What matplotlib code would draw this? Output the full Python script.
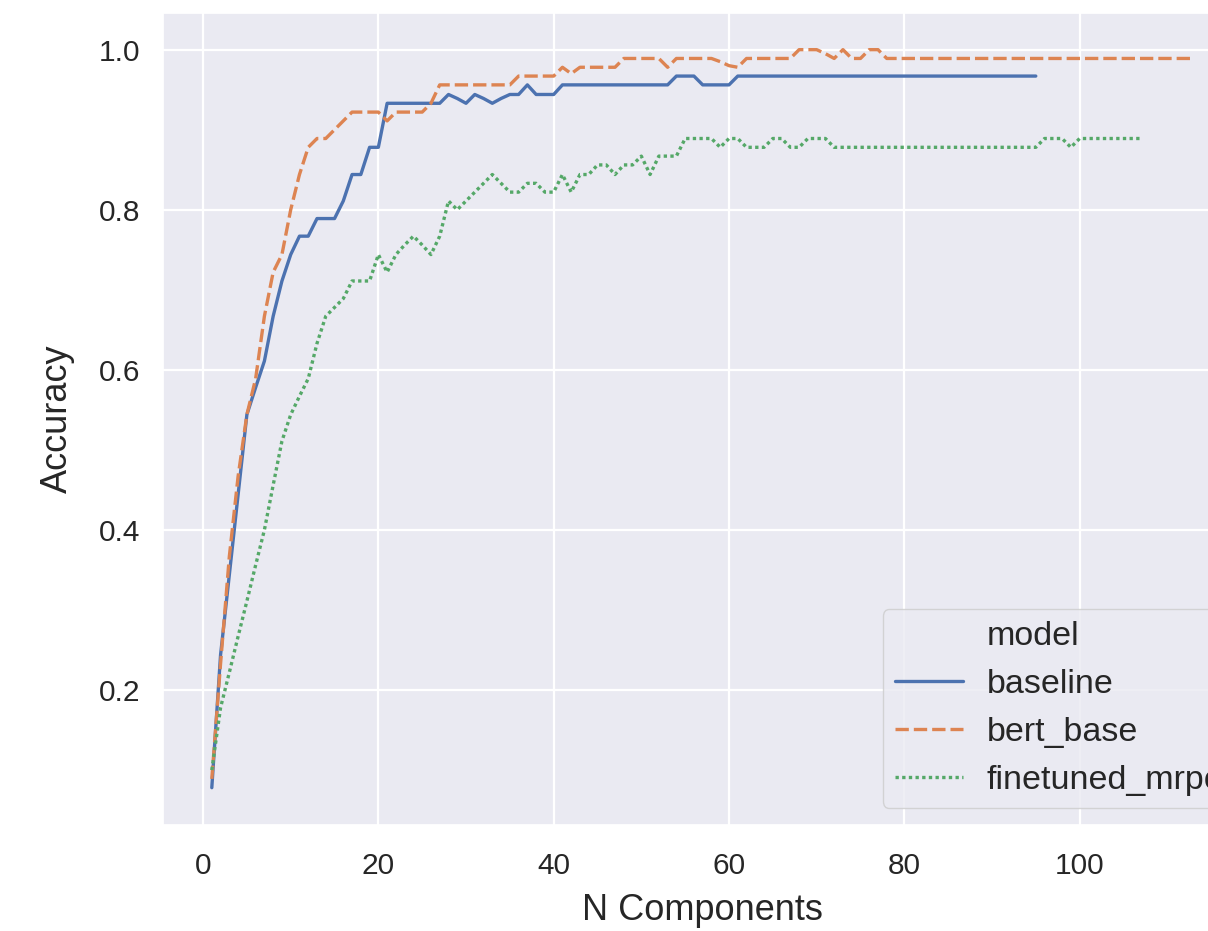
import matplotlib
matplotlib.use("Agg")
import matplotlib.pyplot as plt
import seaborn as sns
from matplotlib.lines import Line2D

# accuracy per number of components
baseline = [0.078, 0.244, 0.344, 0.444, 0.544, 0.578, 0.611, 0.667, 0.711, 0.744,
            0.767, 0.767, 0.789, 0.789, 0.789, 0.811, 0.844, 0.844, 0.878, 0.878,
            0.933, 0.933, 0.933, 0.933, 0.933, 0.933, 0.933, 0.944, 0.939, 0.933,
            0.944, 0.939, 0.933, 0.939, 0.944, 0.944, 0.956, 0.944, 0.944, 0.944] \
    + [0.956] * 13 + [0.967, 0.967, 0.967, 0.956, 0.956, 0.956, 0.956] + [0.967] * 35

bert_base = [0.089, 0.233, 0.367, 0.467, 0.544, 0.589, 0.667, 0.722, 0.744, 0.8,
             0.844, 0.878, 0.889, 0.889, 0.9, 0.911, 0.922, 0.922, 0.922, 0.922,
             0.911, 0.922, 0.922, 0.922, 0.922, 0.933] \
    + [0.956] * 9 + [0.967] * 5 \
    + [0.978, 0.97, 0.978, 0.978, 0.978, 0.978, 0.978] \
    + [0.989] * 5 + [0.978] + [0.989] * 5 + [0.985, 0.98, 0.978] + [0.989] * 6 \
    + [1.0, 1.0, 1.0, 0.995, 0.989, 1.0, 0.989, 0.989, 1.0, 1.0] + [0.989] * 36

finetuned_mrpc = [0.1, 0.178, 0.222, 0.267, 0.311, 0.356, 0.4, 0.456, 0.511, 0.544,
                  0.567, 0.589, 0.633, 0.667, 0.678, 0.689, 0.711, 0.711, 0.711, 0.744,
                  0.722, 0.744, 0.756, 0.767, 0.756, 0.744, 0.767, 0.811, 0.8, 0.811,
                  0.822, 0.833, 0.844, 0.833, 0.822, 0.822, 0.833, 0.833, 0.822, 0.822,
                  0.844, 0.822, 0.844, 0.844, 0.856, 0.856, 0.844, 0.856, 0.856, 0.867,
                  0.844, 0.867, 0.867, 0.867, 0.889, 0.889, 0.889, 0.889, 0.878, 0.889,
                  0.889, 0.878, 0.878, 0.878, 0.889, 0.889, 0.878, 0.878, 0.889, 0.889,
                  0.889] + [0.878] * 24 + [0.889, 0.889, 0.889, 0.878] + [0.889] * 8

series = [("baseline", baseline), ("bert_base", bert_base), ("finetuned_mrpc", finetuned_mrpc)]

sns.set_theme(style="darkgrid")
plt.rcParams['font.family'] = ['Liberation Sans', 'DejaVu Sans']

fig = plt.figure(figsize=(12.08, 9.31), dpi=100)
ax = fig.add_axes([0.1347, 0.1143, 0.894, 0.872])

palette = sns.color_palette()
dashes = [(None, None), (4, 1.5), (1, 1)]

handles = [Line2D([], [], linestyle='none', label='model')]
for (name, vals), color, dash in zip(series, palette, dashes):
    xs = list(range(1, len(vals) + 1))
    line, = ax.plot(xs, vals, color=color, lw=2.4, label=name)
    if dash[0] is not None:
        line.set_dashes(dash)
    handles.append(line)

ax.grid(color='white', linewidth=1.6)
ax.set_xticks([0, 20, 40, 60, 80, 100])
ax.set_yticks([0.2, 0.4, 0.6, 0.8, 1.0])
ax.tick_params(axis='x', labelsize=21.5, pad=14)
ax.tick_params(axis='y', labelsize=21.5, pad=10)
ax.set_xlabel('N Components', fontsize=26, labelpad=9)
ax.set_ylabel('Accuracy', fontsize=26, labelpad=17)

ax.legend(handles=handles, loc='lower right', bbox_to_anchor=(1.007, 0.0),
          fontsize=24.5, handlelength=2.0, handletextpad=0.7,
          labelspacing=0.5, borderpad=0.35)

fig.savefig('out.png', dpi=100)
